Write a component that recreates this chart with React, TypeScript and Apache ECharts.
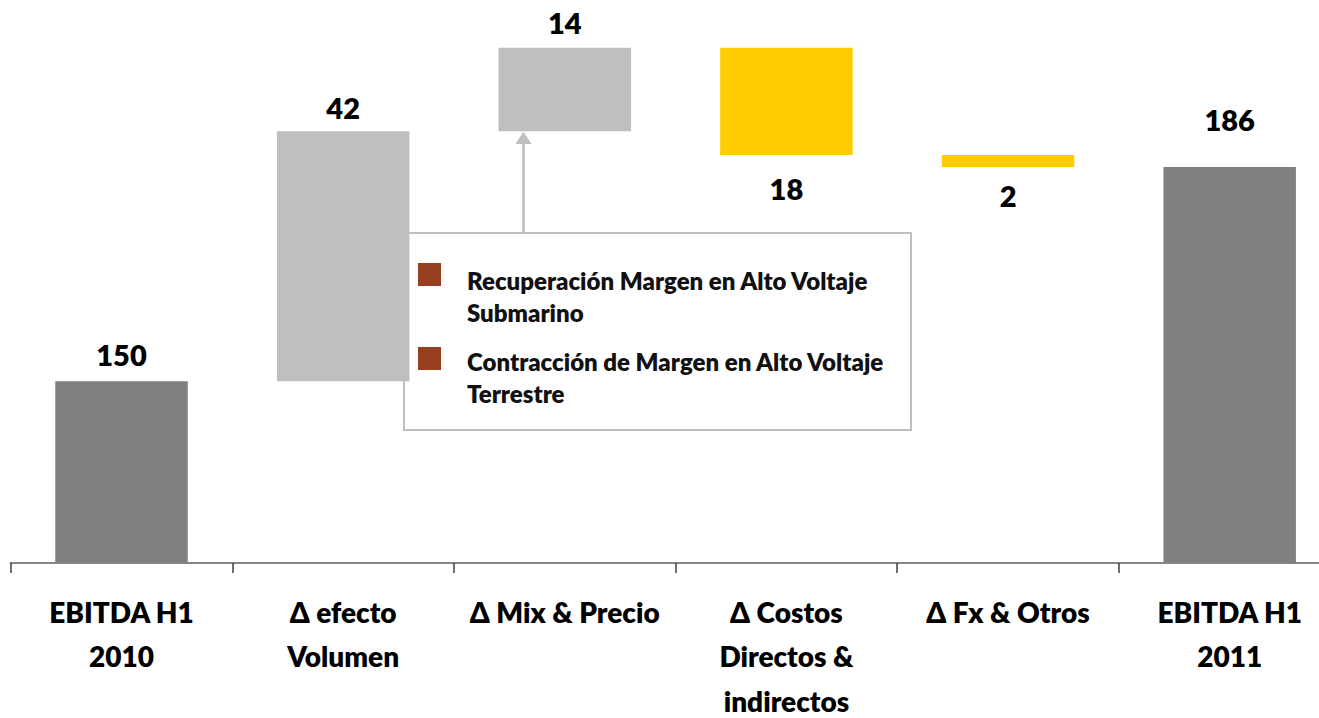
import React, { useEffect, useRef } from "react";
import * as echarts from "echarts";

const categories = [
  "EBITDA H1\n2010",
  "Δ efecto\nVolumen",
  "Δ Mix & Precio",
  "Δ Costos\nDirectos &\nindirectos",
  "Δ Fx & Otros",
  "EBITDA H1\n2011",
];
// signed changes; first and last are totals
const values = [150, 42, 14, -18, -2, 186];
const isTotal = [true, false, false, false, false, true];
const barColors = ["#808080", "#BFBFBF", "#BFBFBF", "#FFCC00", "#FFCC00", "#808080"];
const labelDistances = [12, 9, 11, 19, 14, 33];
const legendItems = [
  "Recuperación Margen en Alto Voltaje\nSubmarino",
  "Contracción de Margen en Alto Voltaje\nTerrestre",
];

const FONT = "Lato, 'Open Sans', sans-serif";
const WEIGHT = 800;

export default function App() {
  const ref = useRef<HTMLDivElement>(null);
  useEffect(() => {
    if (!ref.current) return;
    const chart = echarts.init(ref.current, undefined, { renderer: "svg" });

    // build waterfall stacks
    const base: number[] = [];
    const shown: any[] = [];
    let running = 0;
    values.forEach((v, i) => {
      if (isTotal[i]) {
        base.push(0);
        shown.push(v);
        running = v;
      } else if (v >= 0) {
        base.push(running);
        shown.push(v);
        running += v;
      } else {
        running += v;
        base.push(running);
        shown.push(-v);
      }
    });

    const shownData = shown.map((v, i) => ({
      value: v,
      itemStyle: { color: barColors[i] },
      label: {
        show: true,
        position: values[i] >= 0 ? "top" : "bottom",
        distance: labelDistances[i],
        formatter: String(Math.abs(values[i])),
      },
    }));

    chart.setOption({
      animation: false,
      grid: {
        left: 10.7,
        right: -21.5,
        top: 27,
        bottom: 155,
        containLabel: false,
        outerBoundsMode: "none",
      },
      xAxis: {
        type: "category",
        data: categories,
        axisLine: { lineStyle: { color: "#868686", width: 2 } },
        axisTick: { show: true, length: 10, lineStyle: { color: "#404040", width: 1.5 } },
        axisLabel: {
          interval: 0,
          margin: 27,
          color: "#000",
          fontFamily: FONT,
          fontWeight: WEIGHT,
          fontSize: 28,
          lineHeight: 44.3,
          verticalAlign: "top",
          hideOverlap: false,
        },
      },
      yAxis: {
        type: "value",
        min: 119.5,
        max: 209.5,
        show: false,
        splitLine: { show: false },
      },
      series: [
        {
          type: "bar",
          stack: "w",
          data: base,
          itemStyle: { color: "transparent" },
          barWidth: 132.5,
          silent: true,
          clip: true,
        },
        {
          type: "bar",
          stack: "w",
          data: shownData,
          barWidth: 132.5,
          clip: true,
          label: {
            color: "#000",
            fontFamily: FONT,
            fontWeight: WEIGHT,
            fontSize: 29,
          },
        },
      ],
      graphic: [
        {
          type: "rect",
          z: 0,
          shape: { x: 404, y: 233, width: 507, height: 197 },
          style: { fill: "#fff", stroke: "#BFBFBF", lineWidth: 2 },
        },
        {
          type: "line",
          z: 1,
          shape: { x1: 523.5, y1: 233, x2: 523.5, y2: 142 },
          style: { stroke: "#BFBFBF", lineWidth: 2.5 },
        },
        {
          type: "polygon",
          z: 1,
          shape: { points: [[523.5, 131.7], [515.5, 144], [531.5, 144]] },
          style: { fill: "#BFBFBF" },
        },
        ...legendItems.flatMap((t, i) => [
          {
            type: "rect",
            z: 1,
            shape: { x: 418, y: 263 + i * 84, width: 23, height: 23 },
            style: { fill: "#983F1F" },
          },
          {
            type: "text",
            z: 1,
            style: {
              text: t,
              x: 467,
              y: 264 + i * 81,
              fill: "#111",
              fontFamily: FONT,
              fontWeight: WEIGHT,
              fontSize: 24,
              lineHeight: 32,
              verticalAlign: "top",
            },
          },
        ]),
      ],
    });
    return () => chart.dispose();
  }, []);
  return (
    <div
      ref={ref}
      style={{ position: "absolute", left: 0, top: 0, width: 1319, height: 718, background: "#fff" }}
    />
  );
}
